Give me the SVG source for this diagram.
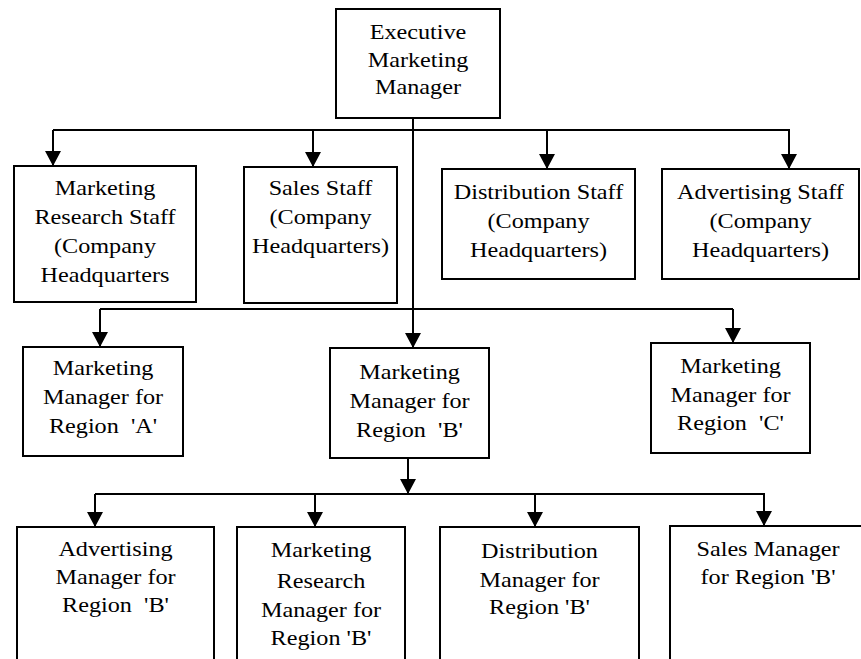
<svg xmlns="http://www.w3.org/2000/svg" width="861" height="659" viewBox="0 0 861 659">
<defs>
<style>
.box{fill:#fff;stroke:#000;stroke-width:2}
.t{font-family:'Liberation Serif','Times New Roman',serif;font-size:22px;fill:#000;text-anchor:middle}
.c{fill:none;stroke:#000;stroke-width:2}
.a{marker-end:url(#arr)}
</style>
<marker id="arr" viewBox="0 0 15 16" refX="15" refY="8" markerWidth="15" markerHeight="16" markerUnits="userSpaceOnUse" orient="auto">
<path d="M0,0 L15,8 L0,16 z" fill="#000"/>
</marker>
</defs>
<rect width="861" height="659" fill="#fff"/>
<g id="connectors">
<path class="c a" d="M413,118 V348"/>
<path class="c" d="M53,130 H790"/>
<path class="c a" d="M53,130 V166"/>
<path class="c a" d="M313,130 V167"/>
<path class="c a" d="M547,130 V169"/>
<path class="c a" d="M789,130 V169"/>
<path class="c" d="M100,309 H733"/>
<path class="c a" d="M100,309 V347"/>
<path class="c a" d="M733,309 V343"/>
<path class="c a" d="M408,458 V494"/>
<path class="c" d="M95,494 H765"/>
<path class="c a" d="M95,494 V527"/>
<path class="c a" d="M315,494 V527"/>
<path class="c a" d="M535,494 V527"/>
<path class="c a" d="M764,494 V526"/>
</g>
<g id="exec">
<rect class="box" x="336" y="9" width="164" height="109"/>
<g transform="translate(418,0) scale(1.1,1)">
<text class="t" x="0" y="39">Executive</text>
<text class="t" x="0" y="67">Marketing</text>
<text class="t" x="0" y="94">Manager</text>
</g>
</g>
<g id="mrs">
<rect class="box" x="14" y="166" width="182" height="136"/>
<g transform="translate(105,0) scale(1.1,1)">
<text class="t" x="0" y="195">Marketing</text>
<text class="t" x="0" y="224">Research Staff</text>
<text class="t" x="0" y="253">(Company</text>
<text class="t" x="0" y="282">Headquarters</text>
</g>
</g>
<g id="ss">
<rect class="box" x="244" y="167" width="153" height="136"/>
<g transform="translate(320.5,0) scale(1.1,1)">
<text class="t" x="0" y="195">Sales Staff</text>
<text class="t" x="0" y="224">(Company</text>
<text class="t" x="0" y="253">Headquarters)</text>
</g>
</g>
<g id="ds">
<rect class="box" x="442" y="169" width="193" height="110"/>
<g transform="translate(538.5,0) scale(1.1,1)">
<text class="t" x="0" y="199">Distribution Staff</text>
<text class="t" x="0" y="228">(Company</text>
<text class="t" x="0" y="257">Headquarters)</text>
</g>
</g>
<g id="as">
<rect class="box" x="662" y="169" width="197" height="110"/>
<g transform="translate(760.5,0) scale(1.1,1)">
<text class="t" x="0" y="199">Advertising Staff</text>
<text class="t" x="0" y="228">(Company</text>
<text class="t" x="0" y="257">Headquarters)</text>
</g>
</g>
<g id="mma">
<rect class="box" x="23" y="347" width="160" height="109"/>
<g transform="translate(103,0) scale(1.1,1)">
<text class="t" x="0" y="375">Marketing</text>
<text class="t" x="0" y="404">Manager for</text>
<text class="t" x="0" y="433" xml:space="preserve">Region  'A'</text>
</g>
</g>
<g id="mmb">
<rect class="box" x="330" y="348" width="159" height="110"/>
<g transform="translate(409.5,0) scale(1.1,1)">
<text class="t" x="0" y="379">Marketing</text>
<text class="t" x="0" y="408">Manager for</text>
<text class="t" x="0" y="437" xml:space="preserve">Region  'B'</text>
</g>
</g>
<g id="mmc">
<rect class="box" x="651" y="343" width="159" height="110"/>
<g transform="translate(730.5,0) scale(1.1,1)">
<text class="t" x="0" y="373">Marketing</text>
<text class="t" x="0" y="402">Manager for</text>
<text class="t" x="0" y="430" xml:space="preserve">Region  'C'</text>
</g>
</g>
<g id="amb">
<rect class="box" x="17" y="527" width="197" height="140"/>
<g transform="translate(115.5,0) scale(1.1,1)">
<text class="t" x="0" y="556">Advertising</text>
<text class="t" x="0" y="584">Manager for</text>
<text class="t" x="0" y="612" xml:space="preserve">Region  'B'</text>
</g>
</g>
<g id="mrmb">
<rect class="box" x="237" y="527" width="168" height="140"/>
<g transform="translate(321,0) scale(1.1,1)">
<text class="t" x="0" y="557">Marketing</text>
<text class="t" x="0" y="588">Research</text>
<text class="t" x="0" y="617">Manager for</text>
<text class="t" x="0" y="645">Region 'B'</text>
</g>
</g>
<g id="dmb">
<rect class="box" x="440" y="527" width="199" height="140"/>
<g transform="translate(539.5,0) scale(1.1,1)">
<text class="t" x="0" y="558">Distribution</text>
<text class="t" x="0" y="587">Manager for</text>
<text class="t" x="0" y="614">Region 'B'</text>
</g>
</g>
<g id="smb">
<rect class="box" x="670" y="526" width="200" height="140"/>
<g transform="translate(768,0) scale(1.1,1)">
<text class="t" x="0" y="556">Sales Manager</text>
<text class="t" x="0" y="584">for Region 'B'</text>
</g>
</g>
</svg>
